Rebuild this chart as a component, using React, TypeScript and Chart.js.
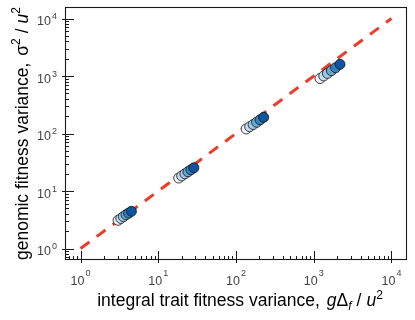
import React, { useEffect, useRef } from "react";
import { Chart, registerables } from "chart.js";

Chart.register(...registerables);

// ---- data ----
const traitVariance = [
  3.04, 3.3, 3.56, 3.85, 4.15, 4.51,
  18.3, 20.0, 22.0, 24.1, 26.3, 28.7,
  135, 150, 166, 184, 204, 227,
  1205, 1345, 1500, 1690, 1910, 2177,
];
const genomicVariance = [
  3.09, 3.33, 3.58, 3.86, 4.12, 4.43,
  16.8, 18.3, 19.9, 21.6, 23.4, 25.3,
  120, 131, 143, 157, 173, 191,
  903, 1000, 1110, 1235, 1390, 1597,
];
const shadeLevels = [0, 1, 2, 3, 4, 5];
const shadeColors = ["#eef3fa", "#c6dbef", "#9dc7e2", "#68a9d4", "#3481bf", "#0c56a0"];
const referenceX = [1, 10000];
const referenceY = [1, 10000];
const tickExponents = [0, 1, 2, 3, 4];
const axisMin = Math.pow(10, -0.2);
const axisMax = Math.pow(10, 4.2);

const FONT = "'Liberation Sans', Arial, Helvetica, sans-serif";

type Run = { t: string; font: string; dy?: number; pre?: number; post?: number };

function runsWidth(ctx: CanvasRenderingContext2D, runs: Run[]) {
  let w = 0;
  for (const r of runs) {
    ctx.font = r.font;
    w += (r.pre || 0) + ctx.measureText(r.t).width + (r.post || 0);
  }
  return w;
}

function drawRuns(ctx: CanvasRenderingContext2D, runs: Run[], startX: number, baseline: number) {
  let x = startX;
  for (const r of runs) {
    ctx.font = r.font;
    x += r.pre || 0;
    ctx.fillText(r.t, x, baseline + (r.dy || 0));
    x += ctx.measureText(r.t).width + (r.post || 0);
  }
}

const reg = (s: number) => `${s}px ${FONT}`;
const ita = (s: number) => `italic ${s}px ${FONT}`;

const xTitleRuns: Run[] = [
  { t: "integral trait fitness variance, ", font: reg(17.5) },
  { t: "g", font: ita(17.5), pre: 2 },
  { t: "Δ", font: reg(17.5) },
  { t: "f", font: ita(12), dy: 4 },
  { t: "/", font: reg(17.5), pre: 5, post: 5 },
  { t: "u", font: ita(17.5) },
  { t: "2", font: reg(12), dy: -7.5 },
];

const yTitleRuns: Run[] = [
  { t: "genomic fitness variance, ", font: reg(17.5) },
  { t: "σ", font: reg(17.5), pre: 2 },
  { t: "2", font: reg(12), dy: -7.5 },
  { t: "/", font: reg(17.5), pre: 5, post: 5 },
  { t: "u", font: ita(17.5) },
  { t: "2", font: reg(12), dy: -7.5 },
];

const decorPlugin = {
  id: "decor",
  afterDraw(chart: any) {
    const ctx: CanvasRenderingContext2D = chart.ctx;
    const xs = chart.scales.x;
    const ys = chart.scales.y;
    const { left, right, top, bottom } = chart.chartArea;
    ctx.save();

    // frame
    ctx.strokeStyle = "#1a1a1a";
    ctx.lineWidth = 1.1;
    ctx.strokeRect(left + 0.5, top + 0.5, right - left - 1, bottom - top - 1);

    // tick marks (major in/out, minor in)
    ctx.lineWidth = 1;
    ctx.beginPath();
    for (let e = -1; e <= 4; e++) {
      for (let m = 1; m <= 9; m++) {
        const v = m * Math.pow(10, e);
        if (v < axisMin || v > axisMax) continue;
        const major = m === 1;
        const px = Math.round(xs.getPixelForValue(v)) + 0.5;
        ctx.moveTo(px, bottom - (major ? 9 : 4));
        ctx.lineTo(px, bottom + (major ? 3 : 0));
        const py = Math.round(ys.getPixelForValue(v)) + 0.5;
        ctx.moveTo(left - (major ? 3 : 0), py);
        ctx.lineTo(left + (major ? 9 : 4), py);
      }
    }
    ctx.stroke();

    // tick labels 10^n
    ctx.fillStyle = "#444";
    ctx.textAlign = "left";
    ctx.textBaseline = "alphabetic";
    const base = reg(12.5);
    const sup = reg(9);
    for (const e of tickExponents) {
      const v = Math.pow(10, e);
      ctx.font = base;
      const w1 = ctx.measureText("10").width;
      ctx.font = sup;
      const w2 = ctx.measureText(String(e)).width;
      const gap = 1;
      const total = w1 + gap + w2;
      const px = xs.getPixelForValue(v);
      let sx = px - total / 2;
      ctx.font = base;
      ctx.fillText("10", sx, bottom + 24.5);
      ctx.font = sup;
      ctx.fillText(String(e), sx + w1 + gap, bottom + 16);
      const py = ys.getPixelForValue(v);
      sx = left - 8 - total;
      ctx.font = base;
      ctx.fillText("10", sx, py + 6.5);
      ctx.font = sup;
      ctx.fillText(String(e), sx + w1 + gap, py + 0.5);
    }

    // axis titles
    ctx.fillStyle = "#000";
    const xw = runsWidth(ctx, xTitleRuns);
    drawRuns(ctx, xTitleRuns, (left + right) / 2 + 4 - xw / 2, 306);

    const yw = runsWidth(ctx, yTitleRuns);
    ctx.translate(27.5, (top + bottom) / 2);
    ctx.rotate(-Math.PI / 2);
    drawRuns(ctx, yTitleRuns, -yw / 2, 0);

    ctx.restore();
  },
};

export default function App() {
  const ref = useRef<HTMLCanvasElement>(null);
  useEffect(() => {
    const canvas = ref.current;
    if (!canvas) return;
    const points = traitVariance.map((x, i) => ({ x, y: genomicVariance[i] }));
    const colors = traitVariance.map((_, i) => shadeColors[shadeLevels[i % shadeLevels.length]]);
    const refLine = referenceX.map((x, i) => ({ x, y: referenceY[i] }));

    const hiddenAxis = (position: string) => ({
      type: "logarithmic" as const,
      position,
      min: axisMin,
      max: axisMax,
      bounds: "data" as const,
      ticks: { display: false },
      grid: { display: false, drawTicks: false },
      border: { display: false },
      title: { display: false },
    });

    const chart = new Chart(canvas, {
      type: "scatter",
      data: {
        datasets: [
          {
            type: "scatter",
            data: points,
            pointRadius: 5,
            pointBackgroundColor: colors,
            pointBorderColor: "#111",
            pointBorderWidth: 0.8,
            order: 0,
          } as any,
          {
            type: "line",
            data: refLine,
            borderColor: "#ee3a29",
            borderWidth: 3,
            borderDash: [11, 9],
            pointRadius: 0,
            fill: false,
            tension: 0,
            order: 1,
          } as any,
        ],
      },
      options: {
        responsive: false,
        animation: false,
        events: [],
        layout: { padding: { left: 65, right: 8, top: 7, bottom: 60 } },
        plugins: {
          legend: { display: false },
          tooltip: { enabled: false },
          title: { display: false },
        },
        scales: {
          x: hiddenAxis("bottom") as any,
          y: hiddenAxis("left") as any,
        },
      },
      plugins: [decorPlugin],
    });
    return () => chart.destroy();
  }, []);

  return (
    <div style={{ position: "absolute", left: 0, top: 0, width: 415, height: 320, background: "#fff" }}>
      <canvas ref={ref} width={415} height={320} style={{ display: "block" }} />
    </div>
  );
}
